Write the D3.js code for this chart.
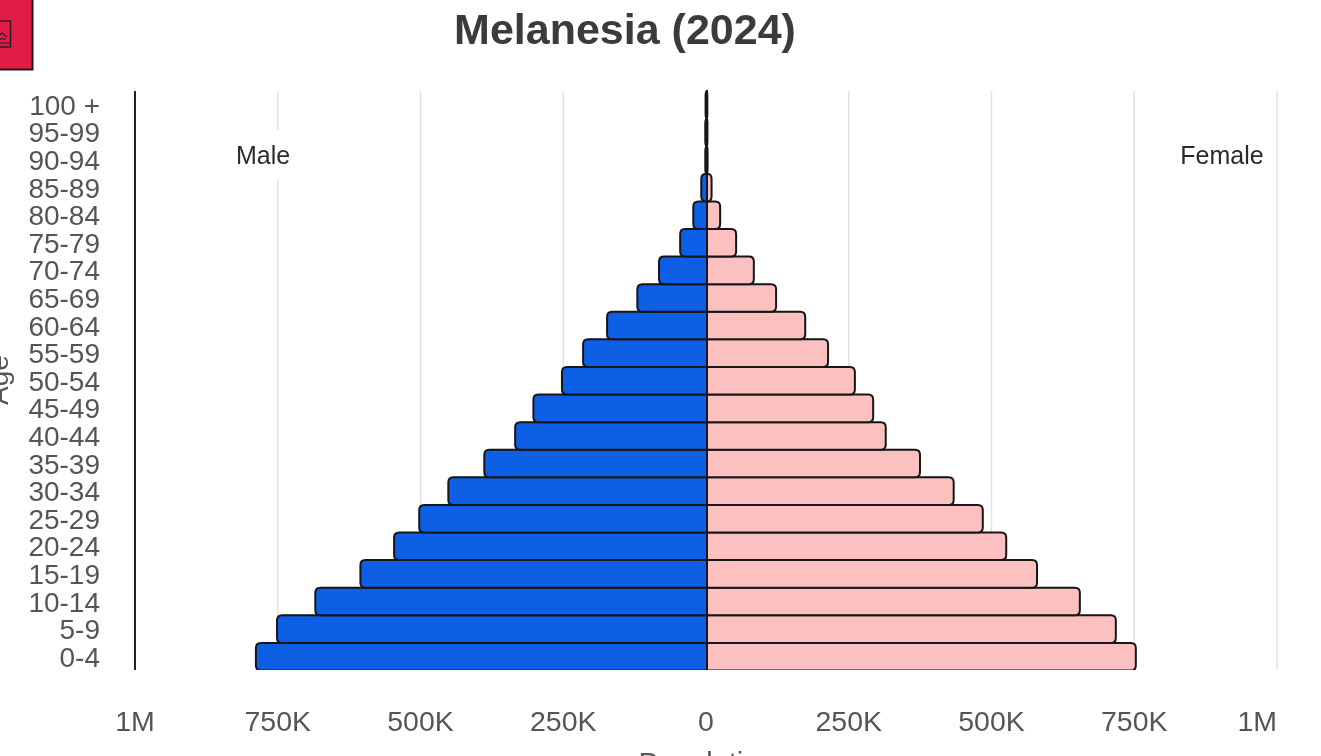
<!DOCTYPE html>
<html>
<head>
<meta charset="utf-8">
<script src="https://cdn.jsdelivr.net/npm/d3@7"></script>
<style>
  html, body { margin: 0; padding: 0; background: #fff; overflow: hidden; }
  text { font-family: "Liberation Sans", Arial, sans-serif; }
</style>
</head>
<body>
<div id="chart"></div>
<script>
const ageGroups = ['0-4', '5-9', '10-14', '15-19', '20-24', '25-29', '30-34', '35-39', '40-44', '45-49',
  '50-54', '55-59', '60-64', '65-69', '70-74', '75-79', '80-84', '85-89', '90-94', '95-99', '100 +'];
const maleValues = [790000, 753000, 686000, 607000, 548000, 504000, 453000, 390000, 336000, 304000,
  254000, 217000, 175000, 122000, 84000, 47000, 24000, 10000, 3000, 3000, 2500];
const femaleValues = [751000, 716000, 653000, 578000, 524000, 483000, 432000, 373000, 313000, 291000,
  259000, 212000, 172000, 121000, 82000, 51000, 23000, 8000, 1000, 800, 600];
const tickValues = [-1000000, -750000, -500000, -250000, 0, 250000, 500000, 750000, 1000000];
const tickLabels = ['1M', '750K', '500K', '250K', '0', '250K', '500K', '750K', '1M'];

const width = 1321;
const height = 756;

const svg = d3.select('#chart').append('svg')
  .attr('width', width)
  .attr('height', height)
  .style('display', 'block');

const defs = svg.append('defs');
defs.append('filter').attr('id', 'soft')
  .append('feGaussianBlur').attr('stdDeviation', 0.6);
// bottom bar is cut off at the plot edge
defs.append('clipPath').attr('id', 'plotClip')
  .append('rect').attr('x', 100).attr('y', 85).attr('width', 1200).attr('height', 585);

const x = d3.scaleLinear().domain([-1000000, 1000000]).range([135, 1277]);
const y = d3.scaleBand().domain(ageGroups).range([670.5, 91]);

const root = svg.append('g').attr('filter', 'url(#soft)');

// Title
root.append('text')
  .attr('x', 625).attr('y', 44)
  .attr('text-anchor', 'middle')
  .attr('font-size', 43).attr('font-weight', 'bold')
  .attr('fill', '#3a3a3a')
  .text('Melanesia (2024)');

// Grid
root.append('g').selectAll('line')
  .data(tickValues.filter((d) => d !== 0 && d !== -1000000))
  .enter().append('line')
  .attr('x1', (d) => x(d)).attr('x2', (d) => x(d))
  .attr('y1', 91).attr('y2', 670)
  .attr('stroke', '#e2e2e2').attr('stroke-width', 1.5);

// Left axis line
root.append('line')
  .attr('x1', x(-1000000)).attr('x2', x(-1000000))
  .attr('y1', 91).attr('y2', 670)
  .attr('stroke', '#222').attr('stroke-width', 2);

// Male / Female labels sit on white patches over the grid
[['Male', 263], ['Female', 1222]].forEach(([label, px]) => {
  const t = root.append('text')
    .attr('x', px).attr('y', 164)
    .attr('text-anchor', 'middle')
    .attr('font-size', 25).attr('fill', '#2b2b2b')
    .text(label);
  const b = t.node().getBBox();
  root.insert('rect', () => t.node())
    .attr('x', b.x - 4).attr('y', 130)
    .attr('width', b.width + 8).attr('height', 50)
    .attr('fill', '#fff');
});

// Bars, the divider sits 1px right of the tick labels in the original
const bars = root.append('g').attr('clip-path', 'url(#plotClip)')
  .append('g').attr('transform', 'translate(1,0)');

function drawBars(values, side, fill) {
  bars.append('g').selectAll('path')
    .data(values)
    .enter().append('path')
    .attr('d', (d, i) => {
      const x0 = x(0);
      const x1 = x(side * d);
      const top = y(ageGroups[i]);
      const bot = top + y.bandwidth();
      const rx = Math.min(5, Math.abs(x1 - x0));
      const ry = 5;
      const s = side;
      return `M${x0},${top} L${x1 - s * rx},${top} Q${x1},${top} ${x1},${top + ry}` +
        ` L${x1},${bot - ry} Q${x1},${bot} ${x1 - s * rx},${bot} L${x0},${bot} Z`;
    })
    .attr('fill', fill)
    .attr('stroke', '#161616')
    .attr('stroke-width', 2);
}

drawBars(femaleValues, 1, '#fdc0c0');
drawBars(maleValues, -1, '#0f5fe6');

// Age labels
root.append('g').selectAll('text')
  .data(ageGroups)
  .enter().append('text')
  .attr('x', 100)
  .attr('y', (d) => y(d) + y.bandwidth() / 2 + 10)
  .attr('text-anchor', 'end')
  .attr('font-size', 28)
  .attr('fill', '#555')
  .text((d) => d);

// Population ticks, the last label is pulled in to end on its gridline
root.append('g').selectAll('text')
  .data(tickValues)
  .enter().append('text')
  .attr('x', (d) => x(d))
  .attr('y', 731)
  .attr('text-anchor', (d) => (d === 1000000 ? 'end' : 'middle'))
  .attr('font-size', 28.5)
  .attr('fill', '#555')
  .text((d, i) => tickLabels[i]);

// Axis titles, both run off the edge of the frame
root.append('text')
  .attr('x', 707).attr('y', 773)
  .attr('text-anchor', 'middle')
  .attr('font-size', 29).attr('fill', '#555')
  .text('Population');

root.append('text')
  .attr('transform', 'translate(8,380) rotate(-90)')
  .attr('text-anchor', 'middle')
  .attr('font-size', 28).attr('fill', '#555')
  .text('Age');

// Red badge in the corner
const badge = root.append('g');
badge.append('rect')
  .attr('x', -2).attr('y', -2).attr('width', 34.5).attr('height', 71.5)
  .attr('fill', '#e21c47').attr('stroke', '#1a1a1a').attr('stroke-width', 2);
badge.append('rect')
  .attr('x', -3).attr('y', 21).attr('width', 13.5).attr('height', 26)
  .attr('fill', 'none').attr('stroke', '#222').attr('stroke-width', 1.4);
badge.append('path')
  .attr('d', 'M-2,36 L2,33 L7,37 M-2,39 L6,39 M-2,43 L10,43')
  .attr('fill', 'none').attr('stroke', '#222').attr('stroke-width', 1.2);
</script>
</body>
</html>
